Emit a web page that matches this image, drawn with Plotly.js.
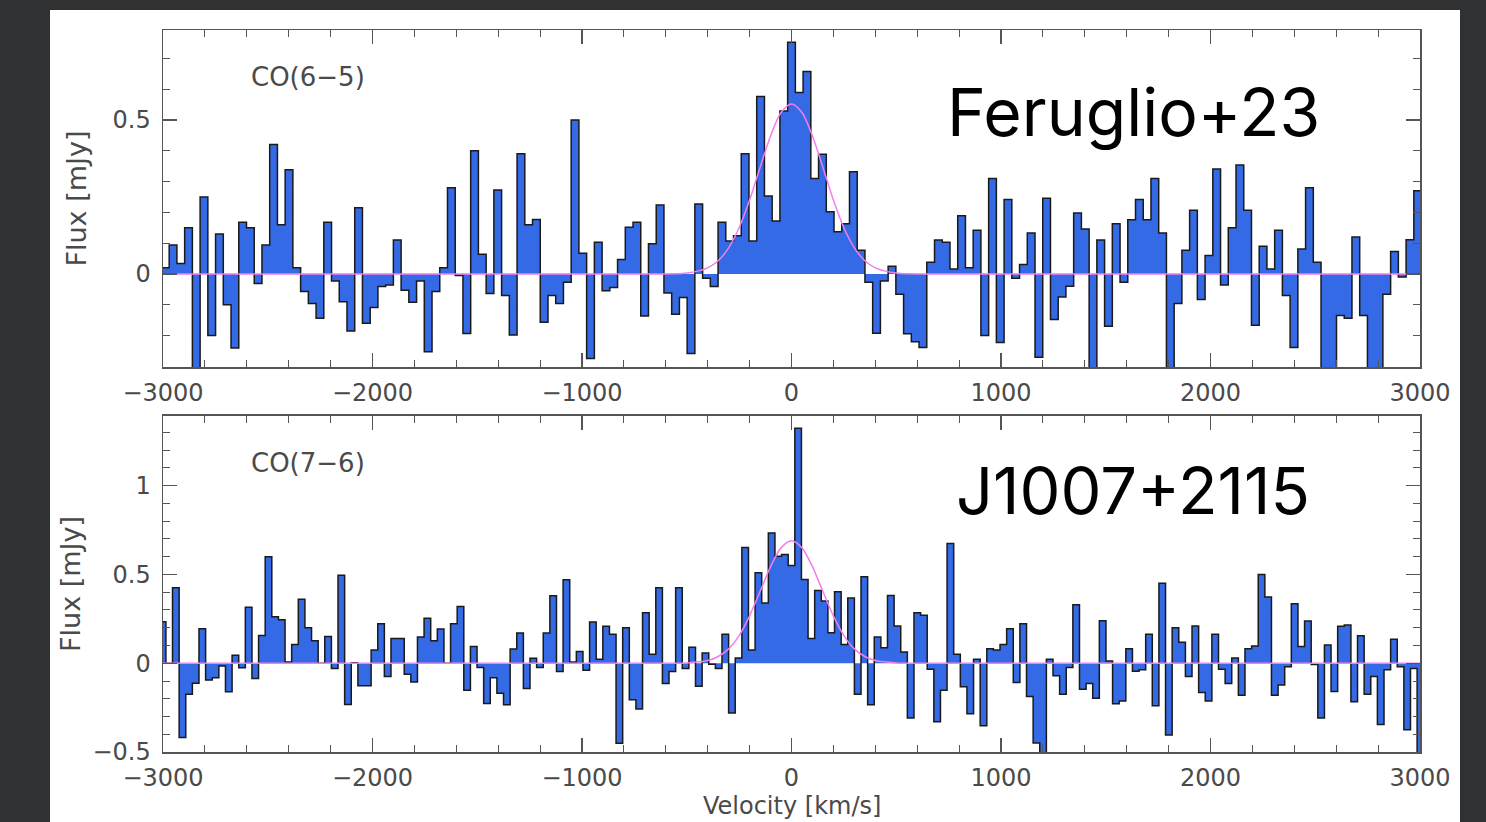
<!DOCTYPE html>
<html>
<head>
<meta charset="utf-8">
<script src="https://cdn.plot.ly/plotly-3.0.1.min.js"></script>
<style>
  html, body { margin: 0; padding: 0; background: #2f3132; }
  #chart { width: 1486px; height: 822px; }
</style>
</head>
<body>
<div id="chart"></div>
<script>
// ---------- DATA ----------
// CO(6-5): channel width (km/s) and channel index range (channel centred on 0 km/s)
const dvCO65 = 36.9;
const kStartCO65 = -81;
const fluxCO65 = [
  0.02, 0.094, 0.034, 0.15, -0.34, 0.25, -0.20, 0.13, -0.10, -0.24,
  0.168, 0.15, -0.031, 0.094, 0.42, 0.16, 0.338, 0.02, -0.057, -0.096,
  -0.144, 0.168, -0.023, -0.09, -0.185, 0.215, -0.16,
  -0.109, -0.041, -0.036, 0.11, -0.053, -0.092, -0.023, -0.252, -0.057, 0.02,
  0.28, -0.005, -0.193, 0.40, 0.064, -0.063, 0.273, -0.07, -0.198, 0.39,
  0.16, 0.177, -0.157, -0.07, -0.096, -0.027, 0.50,
  0.067, -0.274, 0.103, -0.054, -0.044, 0.047, 0.152, 0.168, -0.136, 0.098,
  0.224, -0.062, -0.131, -0.076, -0.258, 0.227, -0.014, -0.041, 0.168, 0.107,
  0.124, 0.39, 0.107, 0.576, 0.253, 0.172, 0.529,
  0.752, 0.589, 0.657, 0.31, 0.389, 0.202, 0.137, 0.163, 0.332, 0.077,
  -0.027, -0.192, -0.023, 0.025, -0.066, -0.194, -0.22, -0.239, 0.038, 0.11,
  0.103, 0.016, 0.189, 0.02, 0.142, -0.20, 0.31,
  -0.222, 0.242, -0.014, 0.031, 0.133, -0.27, 0.246, -0.148, -0.075, -0.04,
  0.198, 0.146, -0.34, 0.11, -0.17, 0.163, -0.027, 0.176, 0.242, 0.176,
  0.31, 0.133, -0.34, -0.096, 0.077, 0.207, -0.083,
  0.06, 0.341, -0.036, 0.15, 0.354, 0.207, -0.166, 0.09, 0.016, 0.142,
  -0.07, -0.239, 0.081, 0.28, 0.038, -0.34, -0.34, -0.135, -0.144, 0.12,
  -0.135, -0.34, -0.34, -0.066, 0.073, -0.01, 0.111, 0.27
];

// CO(7-6)
const dvCO76 = 31.6;
const kStartCO76 = -95;
const fluxCO76 = [
  0.234, 0.0, 0.425, -0.418, -0.174, -0.112, 0.195, -0.094, -0.082, -0.015,
  -0.161, 0.045, -0.026, 0.315, -0.086, 0.157, 0.60, 0.262, 0.245, 0.007,
  0.105, 0.36, 0.20, 0.127, 0.0, 0.15, -0.03, 0.496, -0.232, 0.003, -0.127,
  -0.127, 0.075, 0.223, -0.075, 0.14, 0.14, -0.062, -0.105, 0.148, 0.253,
  0.127, 0.193, 0.0, 0.223, 0.32, -0.152, 0.095, -0.024, -0.227, -0.082,
  -0.169, -0.234, 0.08, 0.17, -0.142, 0.028, -0.024, 0.17, 0.38, -0.047,
  0.47, 0.007,
  0.066, -0.04, 0.232, 0.022, 0.208, 0.163, -0.451, 0.20, -0.206, -0.258,
  0.285, 0.05, 0.425, -0.114, -0.047, 0.425, -0.03, 0.09, -0.129, 0.058,
  -0.005, -0.03, 0.163, -0.28, 0.03, 0.652, 0.075, 0.51, 0.34, 0.734,
  0.603, 0.612,
  0.55, 1.324, 0.472, 0.14, 0.41, 0.35, 0.172, 0.403, 0.105, 0.367,
  -0.174, 0.487, -0.234, 0.148, 0.088, 0.382, 0.21, 0.064, -0.309, 0.285,
  0.27, -0.034, -0.33, -0.152, 0.674, 0.05, -0.133, -0.285, 0.022, -0.352,
  0.082, 0.075,
  0.105, 0.195, -0.109, 0.223, -0.187, -0.45, -0.55, 0.022, -0.071, -0.174,
  -0.024, 0.33, -0.146, -0.114, -0.197, 0.24, 0.013, -0.228, -0.212, 0.082,
  -0.045, -0.037, 0.163, -0.24, 0.45, -0.404, 0.20, 0.118, -0.075, 0.21,
  -0.165, -0.212,
  0.163, -0.034, -0.114, 0.03, -0.18, 0.082, 0.097, 0.50, 0.373, -0.18,
  -0.122, -0.02, 0.335, 0.095, 0.238, -0.007, -0.309, 0.103, -0.159, 0.208,
  0.215, -0.217, 0.155, -0.174, -0.075, -0.345, -0.037, 0.135, -0.02, -0.375,
  -0.03, -0.55
];

// Gaussian fit curves
const fitVel = [-3000, -700, -500, -400, -350, -300, -250, -200, -150, -100, -50, 0,
                50, 100, 150, 200, 250, 300, 350, 400, 500, 700, 3000];
const fitCO65 = [0, 0, 0.003, 0.020, 0.043, 0.085, 0.150, 0.240, 0.346, 0.448, 0.524, 0.552,
                 0.524, 0.448, 0.346, 0.240, 0.150, 0.085, 0.043, 0.020, 0.003, 0, 0];
const fitCO76 = [0, 0, 0.002, 0.015, 0.038, 0.081, 0.156, 0.267, 0.404, 0.544, 0.650, 0.690,
                 0.650, 0.544, 0.404, 0.267, 0.156, 0.081, 0.038, 0.015, 0.002, 0, 0];

const xTickVals = [-3000, -2000, -1000, 0, 1000, 2000, 3000];
const lineLabels = ['CO(6\u22125)', 'CO(7\u22126)'];
const sourceLabels = ['Feruglio+23', 'J1007+2115'];
const xTitle = 'Velocity [km/s]';
const yTitle = 'Flux [mJy]';

// ---------- BUILD ----------
function stepArrays(flux, dv, kStart) {
  const x = [], y = [];
  for (let i = 0; i < flux.length; i++) {
    x.push((kStart + i) * dv - dv / 2);
    y.push(flux[i]);
  }
  x.push((kStart + flux.length - 1) * dv + dv / 2);
  y.push(flux[flux.length - 1]);
  return {x, y};
}

const s1 = stepArrays(fluxCO65, dvCO65, kStartCO65);
const s2 = stepArrays(fluxCO76, dvCO76, kStartCO76);

const fillCol = '#346ae6';
const pink = '#f27ef0';

const traces = [
  {x: s1.x, y: s1.y, xaxis: 'x', yaxis: 'y', type: 'scatter', mode: 'lines',
   line: {shape: 'hv', color: '#1a1a1a', width: 1.5}, fill: 'tozeroy', fillcolor: fillCol, hoverinfo: 'skip'},
  {x: fitVel, y: fitCO65, xaxis: 'x', yaxis: 'y', type: 'scatter', mode: 'lines',
   line: {shape: 'spline', smoothing: 0.8, color: pink, width: 1.5}, hoverinfo: 'skip'},
  {x: s2.x, y: s2.y, xaxis: 'x2', yaxis: 'y2', type: 'scatter', mode: 'lines',
   line: {shape: 'hv', color: '#1a1a1a', width: 1.5}, fill: 'tozeroy', fillcolor: fillCol, hoverinfo: 'skip'},
  {x: fitVel, y: fitCO76, xaxis: 'x2', yaxis: 'y2', type: 'scatter', mode: 'lines',
   line: {shape: 'spline', smoothing: 0.8, color: pink, width: 1.5}, hoverinfo: 'skip'}
];

const axCol = '#555555';
const txtCol = '#4a4a4a';
const tickFont = {family: 'DejaVu Sans', size: 24, color: txtCol};

function xAxis(anchor) {
  return {
    anchor: anchor, range: [-3000, 3000], tickmode: 'array', tickvals: xTickVals,
    showline: true, linecolor: axCol, linewidth: 1.5, mirror: 'ticks',
    ticks: 'inside', ticklen: 14, tickwidth: 1.2, tickcolor: axCol,
    minor: {dtick: 200, tick0: 0, ticks: 'inside', ticklen: 7, tickwidth: 1, tickcolor: axCol},
    showgrid: false, zeroline: false, tickfont: tickFont, ticklabelstandoff: 4
  };
}
function yAxis(anchor, domain, range, tickvals, standoff) {
  return {
    anchor: anchor, domain: domain, range: range, tickmode: 'array', tickvals: tickvals,
    showline: true, linecolor: axCol, linewidth: 1.5, mirror: 'ticks',
    ticks: 'inside', ticklen: 14, tickwidth: 1.2, tickcolor: axCol,
    minor: {dtick: 0.1, tick0: 0, ticks: 'inside', ticklen: 7, tickwidth: 1, tickcolor: axCol},
    showgrid: false, zeroline: false, tickfont: tickFont, ticklabelstandoff: 6,
    title: {text: yTitle, font: {family: 'DejaVu Sans', size: 27, color: txtCol}, standoff: standoff}
  };
}

const layout = {
  width: 1486, height: 822,
  margin: {l: 163, r: 66, t: 30, b: 70},
  paper_bgcolor: '#2f3132', plot_bgcolor: '#ffffff',
  showlegend: false,
  xaxis: xAxis('y'),
  yaxis: yAxis('x', [0.5332, 1], [-0.302, 0.792], [0, 0.5], 18),
  xaxis2: xAxis('y2'),
  yaxis2: yAxis('x2', [0, 0.4654], [-0.5, 1.393], [-0.5, 0, 0.5, 1], 4),
  shapes: [
    {type: 'rect', xref: 'paper', yref: 'paper', layer: 'below',
     x0: (50 - 163) / 1257, x1: (1460 - 163) / 1257, y0: (752 - 830) / 722, y1: (752 - 10) / 722,
     fillcolor: '#ffffff', line: {width: 0}}
  ],
  annotations: [
    {text: xTitle, xref: 'paper', yref: 'paper', x: 0.5, y: (752 - 806) / 722,
     xanchor: 'center', yanchor: 'middle', showarrow: false, font: {family: 'DejaVu Sans', size: 24, color: txtCol}},
    {text: lineLabels[0], xref: 'paper', yref: 'paper', x: (249 - 163) / 1257, y: (752 - 77) / 722,
     xanchor: 'left', yanchor: 'middle', showarrow: false, font: {family: 'DejaVu Sans', size: 26, color: txtCol}},
    {text: lineLabels[1], xref: 'paper', yref: 'paper', x: (249 - 163) / 1257, y: (752 - 463) / 722,
     xanchor: 'left', yanchor: 'middle', showarrow: false, font: {family: 'DejaVu Sans', size: 26, color: txtCol}},
    {text: sourceLabels[0], xref: 'paper', yref: 'paper', x: (1133 - 163) / 1257, y: (752 - 112) / 722,
     xanchor: 'center', yanchor: 'middle', showarrow: false, font: {family: 'Inter', size: 66, color: '#000000'}},
    {text: sourceLabels[1], xref: 'paper', yref: 'paper', x: (1133 - 163) / 1257, y: (752 - 490) / 722,
     xanchor: 'center', yanchor: 'middle', showarrow: false, font: {family: 'Inter', size: 65, color: '#000000'}}
  ]
};

Plotly.newPlot('chart', traces, layout, {displayModeBar: false, staticPlot: true});
</script>
</body>
</html>
